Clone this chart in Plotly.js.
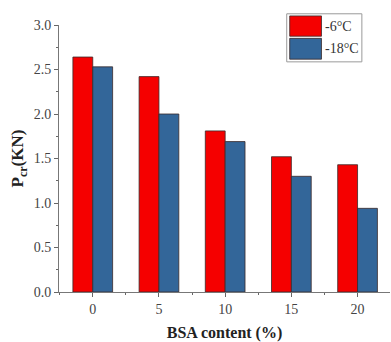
<!DOCTYPE html>
<html>
<head>
<meta charset="utf-8">
<script src="https://cdn.plot.ly/plotly-3.0.1.min.js"></script>
<style>
  html, body { margin: 0; padding: 0; background: #fff; }
  #chart { width: 391px; height: 342px; }
</style>
</head>
<body>
<div id="chart"></div>
<script>
// BSA content (%) on the x axis
const bsaContent = [0, 5, 10, 15, 20];
// Critical load P_cr (KN) at each test temperature
const pcrMinus6 = [2.64, 2.42, 1.81, 1.52, 1.43];
const pcrMinus18 = [2.53, 2.00, 1.69, 1.30, 0.94];
const seriesNames = ['-6°C', '-18°C'];
const seriesColors = ['#f50000', '#336699'];
const yTicks = [0, 0.5, 1.0, 1.5, 2.0, 2.5, 3.0];

const serif = '"Liberation Serif", "Times New Roman", serif';

const traces = [pcrMinus6, pcrMinus18].map((vals, i) => ({
  type: 'bar',
  name: seriesNames[i],
  x: bsaContent,
  y: vals,
  marker: { color: seriesColors[i], line: { color: '#3a2a2a', width: 0.8 } },
  showlegend: false,
  hoverinfo: 'x+y'
}));

// Legend drawn as a boxed panel with wide colour swatches
const legX0 = 0.688, legX1 = 0.915;
const shapes = [
  { type: 'rect', xref: 'paper', yref: 'paper', x0: legX0, x1: legX1, y0: 0.862, y1: 1.042,
    line: { color: '#9a9a9a', width: 1 }, fillcolor: 'rgba(255,255,255,0)' }
];
const annotations = [];
const rowY = [[0.958, 1.034], [0.872, 0.950]];
seriesNames.forEach((name, i) => {
  shapes.push({ type: 'rect', xref: 'paper', yref: 'paper',
    x0: 0.697, x1: 0.793, y0: rowY[i][0], y1: rowY[i][1],
    fillcolor: seriesColors[i], line: { color: '#3a2a2a', width: 0.8 } });
  annotations.push({ xref: 'paper', yref: 'paper', x: 0.798, y: (rowY[i][0] + rowY[i][1]) / 2,
    xanchor: 'left', yanchor: 'middle', showarrow: false, text: name,
    font: { family: serif, size: 14, color: '#333' } });
});

const layout = {
  width: 391,
  height: 342,
  margin: { l: 59, r: 1, t: 25, b: 50 },
  paper_bgcolor: '#fff',
  plot_bgcolor: '#fff',
  barmode: 'group',
  bargap: 0.4,
  bargroupgap: 0,
  font: { family: serif, size: 14, color: '#444' },
  xaxis: {
    range: [-2.55, 22.45],
    tickmode: 'array',
    tickvals: bsaContent,
    ticks: 'outside', ticklen: 4, tickcolor: '#666',
    minor: { dtick: 2.5, tick0: 2.5, ticks: 'outside', ticklen: 2, tickcolor: '#666' },
    showline: true, linecolor: '#777', linewidth: 1,
    showgrid: false, zeroline: false,
    tickfont: { family: serif, size: 14, color: '#444' },
    title: { text: '<b>BSA content (%)</b>', font: { family: serif, size: 16, color: '#222' }, standoff: 13 }
  },
  yaxis: {
    range: [0, 3.0],
    tickmode: 'array',
    tickvals: yTicks,
    ticktext: yTicks.map(v => v.toFixed(1)),
    ticks: 'outside', ticklen: 4, tickcolor: '#666',
    minor: { dtick: 0.25, tick0: 0.25, ticks: 'outside', ticklen: 2, tickcolor: '#666' },
    showline: true, linecolor: '#777', linewidth: 1,
    showgrid: false, zeroline: false,
    tickfont: { family: serif, size: 14, color: '#444' },
    title: { text: '<b>P<sub>cr</sub>(KN)</b>', font: { family: serif, size: 17, color: '#222' }, standoff: 5 }
  },
  shapes: shapes,
  annotations: annotations
};

Plotly.newPlot('chart', traces, layout, { displayModeBar: false, staticPlot: true });
</script>
</body>
</html>
